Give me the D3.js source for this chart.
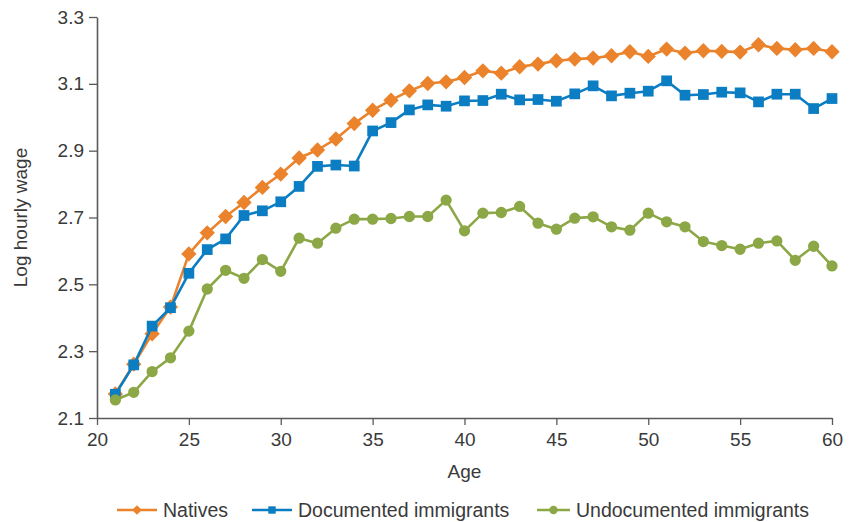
<!DOCTYPE html>
<html>
<head>
<meta charset="utf-8">
<script src="https://cdn.jsdelivr.net/npm/d3@7"></script>
<style>
  html, body { margin: 0; padding: 0; background: #fff; }
  svg { display: block; font-family: "Liberation Sans", Arial, sans-serif; }
</style>
</head>
<body>
<div id="chart"></div>
<script>
// Log hourly wage by age — natives vs documented vs undocumented immigrants

const ages = d3.range(21, 61);

const natives = [
  2.172, 2.261, 2.352, 2.432, 2.591, 2.654, 2.703, 2.745, 2.790, 2.830,
  2.878, 2.902, 2.935, 2.981, 3.021, 3.051, 3.079, 3.101, 3.106, 3.119,
  3.139, 3.132, 3.151, 3.159, 3.169, 3.174, 3.177, 3.184, 3.196, 3.182,
  3.204, 3.192, 3.199, 3.197, 3.195, 3.217, 3.206, 3.202, 3.206, 3.196
];

const documented = [
  2.171, 2.259, 2.375, 2.430, 2.533, 2.604, 2.636, 2.706, 2.720, 2.747,
  2.793, 2.853, 2.857, 2.854, 2.959, 2.984, 3.022, 3.037, 3.033, 3.049,
  3.050, 3.069, 3.052, 3.053, 3.048, 3.070, 3.094, 3.064, 3.072, 3.078,
  3.109, 3.066, 3.068, 3.075, 3.073, 3.046, 3.069, 3.069, 3.026, 3.056
];

const undocumented = [
  2.154, 2.177, 2.239, 2.280, 2.360, 2.486, 2.542, 2.518, 2.574, 2.539,
  2.638, 2.623, 2.668, 2.695, 2.695, 2.697, 2.703, 2.703, 2.752, 2.660,
  2.713, 2.715, 2.733, 2.683, 2.665, 2.698, 2.702, 2.672, 2.662, 2.713,
  2.687, 2.672, 2.628, 2.616, 2.605, 2.623, 2.630, 2.572, 2.614, 2.555
];

const seriesNames = ['Natives', 'Documented immigrants', 'Undocumented immigrants'];
const xTicks = [20, 25, 30, 35, 40, 45, 50, 55, 60];
const yTicks = [2.1, 2.3, 2.5, 2.7, 2.9, 3.1, 3.3];

// ── Layout ────────────────────────────────────────────────────────────────
const W = 849, H = 522;
const margin = { top: 17, right: 17, bottom: 104, left: 97 };
const innerW = W - margin.left - margin.right;
const innerH = H - margin.top - margin.bottom;

const ink = '#3a3a3a';
const axisInk = '#5a5a5a';
const fontSize = 19;

const series = [
  { name: seriesNames[0], values: natives,      color: '#ea832b', symbol: d3.symbolDiamond2, size: 150, legendSize: 60 },
  { name: seriesNames[1], values: documented,   color: '#0b7dc2', symbol: d3.symbolSquare,   size: 115, legendSize: 55 },
  { name: seriesNames[2], values: undocumented, color: '#8ca746', symbol: d3.symbolCircle,   size: 100, legendSize: 55 },
];

const svg = d3.select('#chart').append('svg')
  .attr('width', W).attr('height', H);

const g = svg.append('g').attr('transform', `translate(${margin.left},${margin.top})`);

const x = d3.scaleLinear().domain([20, 60]).range([0, innerW]);
const y = d3.scaleLinear().domain([2.1, 3.3]).range([innerH, 0]);

// ── Axes ──────────────────────────────────────────────────────────────────
const gx = g.append('g')
  .attr('transform', `translate(0,${innerH})`)
  .call(d3.axisBottom(x).tickValues(xTicks).tickSize(7).tickPadding(8).tickSizeOuter(0));

const gy = g.append('g')
  .call(d3.axisLeft(y).tickValues(yTicks).tickFormat(d3.format('.1f')).tickSize(8).tickPadding(5).tickSizeOuter(0));

[gx, gy].forEach(a => {
  a.select('.domain').attr('stroke', axisInk).attr('stroke-width', 1.6);
  a.selectAll('.tick line').attr('stroke', axisInk).attr('stroke-width', 1.3);
  a.selectAll('.tick text')
    .attr('fill', ink)
    .style('font-size', fontSize + 'px')
    .style('font-family', '"Liberation Sans", Arial, sans-serif');
});

// Axis titles
g.append('text')
  .attr('x', innerW / 2).attr('y', innerH + 60)
  .attr('text-anchor', 'middle')
  .attr('fill', ink)
  .style('font-size', fontSize + 'px')
  .text('Age');

g.append('text')
  .attr('transform', `translate(${-70},${innerH / 2}) rotate(-90)`)
  .attr('text-anchor', 'middle')
  .attr('fill', ink)
  .style('font-size', fontSize + 'px')
  .text('Log hourly wage');

// ── Lines + markers ───────────────────────────────────────────────────────
const line = d3.line()
  .x((d, i) => x(ages[i]))
  .y(d => y(d));

series.forEach(s => {
  const gs = g.append('g');
  gs.append('path')
    .datum(s.values)
    .attr('d', line)
    .attr('fill', 'none')
    .attr('stroke', s.color)
    .attr('stroke-width', 2.6)
    .attr('stroke-linejoin', 'round');

  gs.selectAll('path.pt').data(s.values).join('path')
    .attr('class', 'pt')
    .attr('transform', (d, i) => `translate(${x(ages[i])},${y(d)})`)
    .attr('d', d3.symbol().type(s.symbol).size(s.size))
    .attr('fill', s.color);
});

// ── Legend ────────────────────────────────────────────────────────────────
const legendY = 510;
const legendX = [117, 252, 537];
const legendLineW = [40, 40, 33];

const legend = svg.append('g');
series.forEach((s, i) => {
  const item = legend.append('g').attr('transform', `translate(${legendX[i]},${legendY})`);
  item.append('line')
    .attr('x1', 0).attr('x2', legendLineW[i])
    .attr('stroke', s.color).attr('stroke-width', 2.6);
  item.append('path')
    .attr('transform', `translate(${legendLineW[i] / 2},0)`)
    .attr('d', d3.symbol().type(s.symbol).size(s.legendSize))
    .attr('fill', s.color);
  item.append('text')
    .attr('x', legendLineW[i] + 6)
    .attr('dy', '0.35em')
    .attr('fill', ink)
    .style('font-size', (fontSize + 0.5) + 'px')
    .text(s.name);
});
</script>
</body>
</html>
